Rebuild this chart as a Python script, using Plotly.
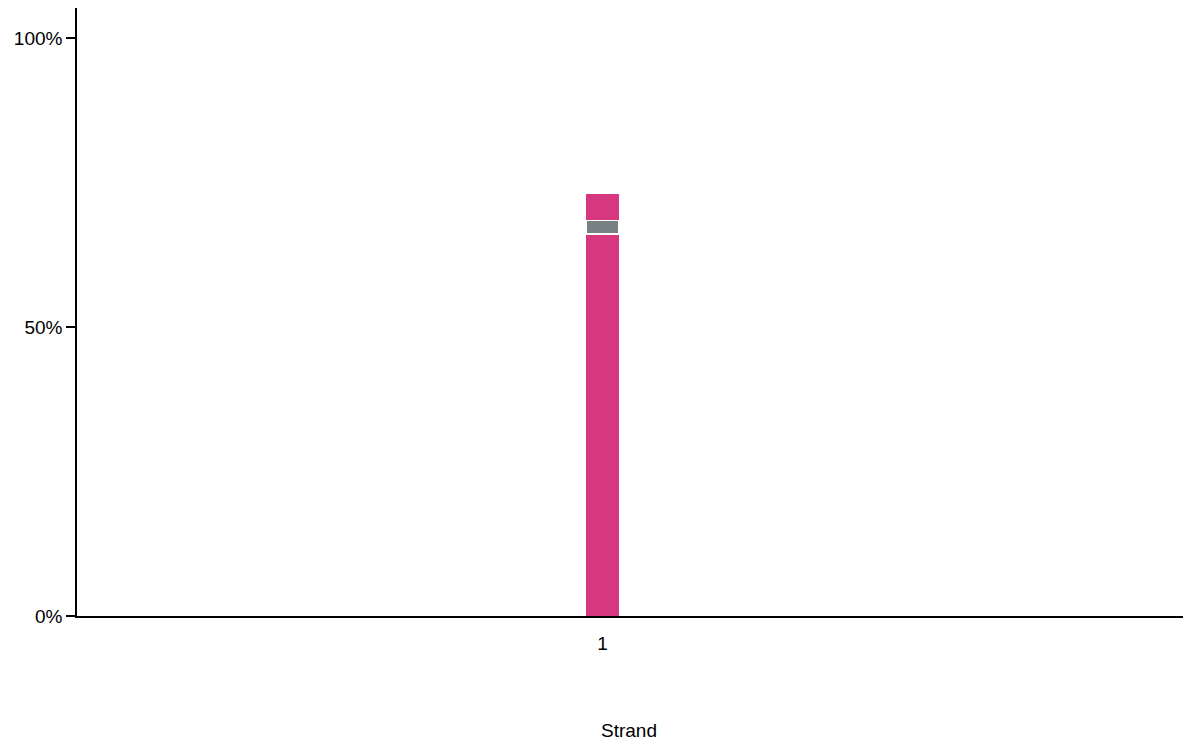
import plotly.graph_objects as go

categories = ["1"]
seg_lower = [66.1]
seg_middle = [2.4]
seg_upper = [4.5]

pink = "#d6387f"
grey = "#788285"

fig = go.Figure()
fig.add_trace(go.Bar(x=categories, y=seg_lower, marker=dict(color=pink, line=dict(width=0)), width=0.0317))
fig.add_trace(go.Bar(x=categories, y=seg_middle, marker=dict(color=grey, line=dict(width=2, color="white")), width=0.0317))
fig.add_trace(go.Bar(x=categories, y=seg_upper, marker=dict(color=pink, line=dict(width=0)), width=0.0317))

font = dict(family="Liberation Sans, Arial, sans-serif", size=19, color="black")
fig.update_layout(
    barmode="stack",
    showlegend=False,
    width=1183, height=736,
    margin=dict(l=69, r=0, t=0, b=128, autoexpand=False),
    plot_bgcolor="white", paper_bgcolor="white",
    font=font,
    xaxis=dict(
        type="category", range=[-0.5, 0.56],
        showline=True, linecolor="black", linewidth=1.5,
        ticks="", showgrid=False, zeroline=False,
        ticklabelstandoff=9,
    ),
    yaxis=dict(
        range=[0, 105.2], tickvals=[0, 50, 100], ticktext=["0%", "50%", "100%"],
        showline=True, linecolor="black", linewidth=1.5,
        ticks="outside", ticklen=9, tickcolor="black", tickwidth=1.5,
        showgrid=False, zeroline=False,
    ),
    annotations=[dict(
        text="Strand", xref="paper", yref="paper", x=0.4955, y=-0.1891,
        xanchor="center", yanchor="middle", showarrow=False, font=font,
    )],
)
fig.write_html("out.html")
